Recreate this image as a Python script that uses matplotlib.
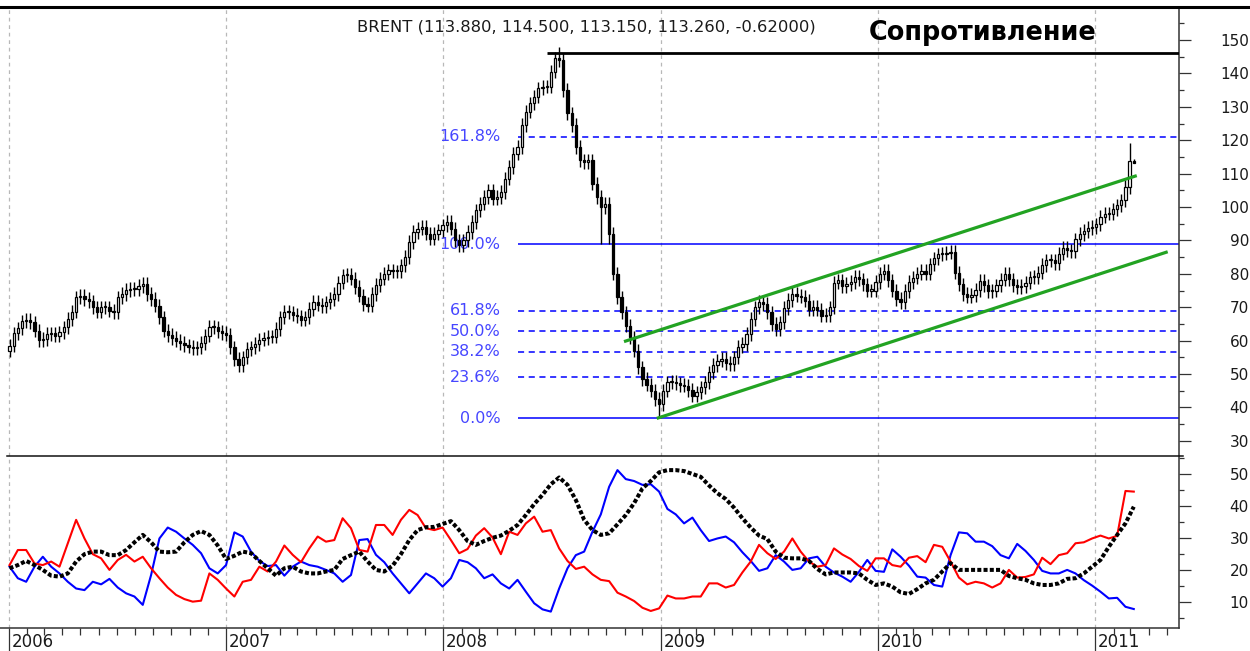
import matplotlib
matplotlib.use('Agg')
import matplotlib.pyplot as plt
import matplotlib.dates as mdates
import matplotlib.ticker as mticker
import matplotlib.transforms as mtransforms
from matplotlib.lines import Line2D
import numpy as np
import pandas as pd

plt.rcParams['font.family'] = ['DejaVu Sans']

# ---------------- data ----------------
bar_dates = pd.date_range('2006-01-02', periods=271, freq='7D')

close = [
    # 2006
    58.5, 62.2, 63.7, 65.8, 66.2, 65.5, 63.0, 60.2, 60.5, 62.0,
    62.2, 61.5, 62.5, 64.0, 66.5, 68.7, 73.0, 73.5, 72.5, 71.8,
    70.0, 68.7, 70.0, 70.0, 69.0, 68.5, 73.0, 74.0, 75.2, 75.5,
    75.5, 76.3, 77.0, 74.0, 72.5, 70.5, 67.0, 63.0, 61.7, 60.8,
    60.0, 59.3, 58.6, 58.2, 57.7, 58.0, 59.3, 61.5, 64.2, 64.0,
    62.8, 62.3,
    # 2007
    61.8, 58.0, 54.5, 52.7, 55.0, 57.5, 58.0, 59.0, 60.3, 60.7,
    61.2, 61.2, 63.5, 67.0, 68.7, 68.5, 67.8, 67.3, 66.3, 67.0,
    69.5, 71.7, 70.8, 70.3, 71.5, 72.5, 74.0, 77.3, 79.5, 79.7,
    78.5, 76.0, 73.5, 71.0, 70.5, 74.0, 76.6, 78.5, 80.0, 81.0,
    80.7, 80.7, 82.5, 85.0, 89.5, 92.5, 93.5, 94.0, 92.0, 90.5,
    92.0, 93.0,
    # 2008
    94.5, 95.5, 93.5, 90.0, 88.5, 90.0, 92.5, 95.5, 99.0, 101.0,
    103.0, 105.0, 102.5, 103.0, 104.5, 108.5, 112.0, 116.0, 118.0, 124.5,
    128.5, 131.0, 133.0, 135.5, 136.0, 136.0, 140.5, 144.5, 144.0, 135.0,
    128.0, 124.5, 118.0, 114.0, 113.5, 114.0, 107.0, 103.0, 100.0, 101.0,
    92.0, 80.0, 73.0, 68.5, 64.5, 61.0, 57.0, 52.0, 48.5, 46.8,
    45.0, 42.5, 41.0,
    # 2009
    45.0, 47.5, 47.7, 47.2, 46.7, 46.5, 45.2, 43.5, 44.5, 46.0,
    47.5, 50.5, 52.7, 54.0, 54.6, 53.3, 53.0, 55.0, 58.2, 59.0,
    62.0, 66.5, 70.0, 71.6, 71.0, 68.5, 65.0, 63.5, 65.5, 69.8,
    72.2, 74.0, 73.5, 73.2, 72.0, 69.3, 70.2, 69.3, 67.5, 67.7,
    70.0, 77.3, 78.0, 76.3, 77.0, 77.5, 79.0, 78.3, 76.8, 75.0,
    75.0, 77.5,
    # 2010
    80.0, 80.8, 78.0, 75.0, 72.5, 71.5, 74.8, 77.5, 78.8, 80.0,
    80.8, 80.0, 82.8, 84.6, 85.8, 86.0, 86.3, 86.5, 80.3, 76.8,
    74.0, 73.2, 73.7, 75.2, 77.8, 76.5, 74.8, 75.0, 76.5, 78.2,
    80.0, 78.3, 76.5, 76.0, 76.3, 77.3, 78.9, 79.0, 80.3, 82.6,
    84.0, 84.0, 83.2, 86.0, 87.7, 87.0, 86.8, 90.3, 91.9, 92.8,
    93.7, 94.0,
    # 2011
    94.8, 97.1, 98.0, 98.0, 99.3, 100.5, 102.0, 106.0, 113.9, 113.26,
]
first_open = 57.0
wick = 2.0
low_override = {142: 89.0, 144: 88.8, 156: 36.7, 270: 113.15}
high_override = {131: 146.5, 132: 148.0, 269: 119.3, 270: 114.5}

# indicator (+DI red, -DI blue, ADX black), every second weekly bar
di_plus = [
    21.6, 26.3, 26.3, 22.1, 21.6, 22.7, 21.1, 28.4, 35.7, 29.9,
    25.0, 23.7, 20.1, 23.2, 24.8, 22.7, 24.2, 20.6, 17.5, 14.6,
    12.3, 11.0, 10.2, 10.5, 19.0, 17.0, 14.3, 11.8, 16.4, 17.0,
    21.1, 19.6, 22.7, 27.7, 24.8, 22.5, 26.8, 30.5, 28.9, 29.4,
    36.2, 33.1, 26.3, 25.8, 34.1, 34.1, 31.0, 35.7, 38.8, 37.2,
    33.1, 32.5, 33.3, 29.4, 25.3, 26.6, 30.8, 33.1, 30.2, 25.0,
    32.0, 31.0, 34.6, 36.7, 32.0, 32.5, 26.8, 22.9, 20.4, 21.1,
    18.7, 17.0, 16.6, 13.0, 11.8, 10.4, 8.3, 7.3, 8.1, 12.1,
    11.2, 11.2, 11.8, 11.8, 15.9, 15.9, 14.6, 15.4, 19.3, 22.7,
    27.9, 25.3, 23.5, 25.8, 29.9, 25.8, 22.7, 21.1, 21.6, 26.8,
    24.9, 23.5, 21.3, 19.8, 23.7, 23.7, 21.6, 21.1, 23.9, 24.4,
    22.5, 27.9, 27.3, 22.7, 17.7, 15.6, 16.4, 15.9, 14.6, 15.9,
    20.1, 17.7, 17.9, 18.7, 23.9, 21.9, 24.7, 25.3, 28.4, 28.7,
    29.9, 30.8, 29.9, 30.7, 44.7, 44.5,
]
di_minus = [
    21.1, 17.5, 16.4, 21.1, 24.2, 21.1, 19.0, 16.4, 14.3, 13.8,
    16.4, 15.6, 17.3, 14.6, 12.8, 11.8, 9.2, 18.5, 29.9, 33.3,
    32.0, 29.9, 27.9, 25.3, 20.6, 19.0, 21.6, 31.8, 30.5, 25.8,
    22.9, 21.3, 21.6, 18.3, 21.1, 22.7, 21.6, 21.1, 20.1, 19.0,
    16.4, 18.5, 29.4, 29.7, 24.8, 22.5, 19.0, 15.9, 12.8, 15.9,
    19.0, 17.5, 14.9, 17.5, 23.2, 22.5, 20.6, 17.5, 18.7, 15.9,
    14.3, 17.0, 13.3, 9.7, 7.8, 7.1, 14.3, 20.6, 24.7, 25.8,
    32.0, 37.4, 46.0, 51.2, 48.4, 47.8, 46.6, 46.8, 44.5, 39.1,
    37.4, 34.6, 36.4, 32.5, 29.1, 29.9, 30.5, 28.7, 25.6, 22.9,
    19.8, 20.6, 24.7, 22.7, 20.1, 20.6, 23.7, 24.2, 21.1, 19.3,
    18.0, 16.4, 19.5, 23.2, 19.8, 19.5, 26.5, 24.2, 21.4, 18.0,
    17.7, 15.4, 14.9, 24.7, 31.8, 31.5, 28.9, 28.9, 27.5, 24.7,
    23.7, 28.2, 26.0, 23.2, 19.8, 19.0, 19.0, 20.1, 19.0, 16.9,
    15.2, 13.3, 11.2, 11.4, 8.6, 7.9,
]
adx = [
    20.6, 21.6, 22.9, 21.6, 20.1, 18.3, 18.0, 19.0, 22.7, 25.0,
    25.8, 25.8, 24.7, 24.7, 26.3, 28.7, 31.0, 28.7, 25.8, 25.6,
    25.8, 28.7, 31.0, 32.2, 31.0, 27.7, 23.5, 24.5, 25.8, 25.3,
    22.9, 20.6, 18.3, 20.6, 21.1, 19.6, 19.0, 19.0, 19.6, 20.1,
    23.5, 24.7, 25.8, 22.7, 20.1, 19.6, 21.4, 25.0, 29.4, 32.5,
    33.4, 33.5, 34.4, 35.3, 32.5, 29.1, 27.9, 29.1, 30.1, 30.8,
    32.3, 34.1, 37.2, 40.6, 43.5, 46.8, 48.9, 46.6, 41.9, 35.7,
    32.5, 31.0, 31.5, 34.3, 37.2, 40.9, 45.5, 47.8, 50.5, 51.2,
    51.2, 50.9, 50.0, 49.1, 46.4, 44.0, 42.2, 39.5, 36.2, 33.3,
    30.8, 29.7, 25.8, 23.9, 23.7, 23.7, 22.9, 20.4, 18.7, 19.3,
    19.3, 19.3, 19.0, 17.0, 15.4, 15.9, 14.9, 13.1, 12.6, 14.1,
    15.9, 17.0, 19.6, 22.2, 20.1, 20.1, 20.1, 20.1, 20.1, 20.1,
    18.2, 17.5, 17.0, 15.9, 15.4, 15.4, 15.9, 17.3, 17.5, 19.0,
    21.1, 23.2, 27.3, 31.0, 34.6, 39.8,
]
ind_dates = bar_dates[::2]

fib_levels = [0.0, 23.6, 38.2, 50.0, 61.8, 100.0, 161.8]
fib_prices = [36.7, 49.0, 56.6, 62.75, 68.9, 88.8, 121.0]
fib_start = '2008-05-05'
resistance_price = 146.2
resistance_start = '2008-06-23'
channel_lower_dates = ['2008-12-25', '2011-05-03']
channel_lower_vals = [36.7, 86.6]
channel_upper_dates = ['2008-10-31', '2011-03-12']
channel_upper_vals = [59.7, 109.4]

title_text = 'BRENT (113.880, 114.500, 113.150, 113.260, -0.62000)'
label_text = 'Сопротивление'

# ---------------- figure ----------------
W, H = 1250, 651
fig = plt.figure(figsize=(W / 100, H / 100), dpi=100)
fig.patch.set_facecolor('white')

ax = fig.add_axes([0, 1 - 456 / H, 1179 / W, (456 - 7) / H])
ax2 = fig.add_axes([0, 1 - 628 / H, 1179 / W, (628 - 456) / H], sharex=ax)

xnum = mdates.date2num(bar_dates)
x0 = mdates.date2num(pd.Timestamp('2005-12-17'))
x1 = mdates.date2num(pd.Timestamp('2011-05-22'))

# candles
c = np.array(close)
o = np.r_[first_open, c[:-1]]
hi = np.maximum(o, c) + wick
lo = np.minimum(o, c) - wick
for k, v in low_override.items():
    lo[k] = v
for k, v in high_override.items():
    hi[k] = v
up = c >= o
body_bot = np.minimum(o, c)
body_h = np.maximum(np.abs(c - o), 0.3)
ax.vlines(xnum, lo, hi, color='black', lw=1.0, zorder=3)
ax.bar(xnum[up], body_h[up], bottom=body_bot[up], width=3.8,
       facecolor='white', edgecolor='black', linewidth=0.9, zorder=4)
ax.bar(xnum[~up], body_h[~up], bottom=body_bot[~up], width=3.8,
       facecolor='black', edgecolor='black', linewidth=0.9, zorder=4)

# fibonacci levels
fs = mdates.date2num(pd.Timestamp(fib_start))
for lvl, pr in zip(fib_levels, fib_prices):
    solid = lvl in (0.0, 100.0)
    ax.hlines(pr, fs, x1, colors='#0000ff', lw=1.1,
              linestyles='solid' if solid else (0, (4, 3)), zorder=2)
    ax.annotate(f'{lvl:.1f}%', xy=(fs, pr), xytext=(-17, 0),
                textcoords='offset pixels', ha='right', va='center',
                fontsize=11.5, color='#4646ff', zorder=1)

# resistance
rs = mdates.date2num(pd.Timestamp(resistance_start))
ax.hlines(resistance_price, rs, x1, colors='black', lw=2.0, zorder=5)

# channel
ax.plot(mdates.date2num(pd.to_datetime(channel_lower_dates)), channel_lower_vals,
        color='#22a322', lw=2.3, zorder=6, solid_capstyle='butt')
ax.plot(mdates.date2num(pd.to_datetime(channel_upper_dates)), channel_upper_vals,
        color='#22a322', lw=2.3, zorder=6, solid_capstyle='butt')

# indicator
inum = mdates.date2num(ind_dates)
ax2.plot(inum, di_minus, color='#0000ff', lw=1.5, zorder=3)
ax2.plot(inum, di_plus, color='#ff0000', lw=1.5, zorder=4)
ax2.plot(inum, adx, color='black', lw=2.9, linestyle=(0, (1.0, 0.55)),
         dash_capstyle='butt', zorder=5)

# ---------------- axes formatting ----------------
ax.set_xlim(x0, x1)
ax.set_ylim(25.45, 159.88)
ax2.set_ylim(1.99, 55.6)

for a in (ax, ax2):
    a.set_facecolor('white')
    a.spines['left'].set_visible(False)
    a.spines['top'].set_visible(False)
    a.spines['right'].set_color('#333333')
    a.spines['right'].set_linewidth(1.1)
    a.yaxis.tick_right()
    a.yaxis.set_major_locator(mticker.MultipleLocator(10))
    a.yaxis.set_minor_locator(mticker.MultipleLocator(5))
    a.tick_params(axis='y', which='major', direction='out', length=8.6, width=0.9,
                  color='#333333', labelsize=11, labelcolor='#1a1a1a', pad=41.8)
    a.tick_params(axis='y', which='minor', direction='out', length=3.6, width=0.9,
                  color='#333333')
    a.grid(axis='x', which='major', color='#b8b8b8', linestyle=(0, (3, 3)), lw=0.9)
    a.set_axisbelow(True)

ax.spines['bottom'].set_visible(False)
ax2.spines['bottom'].set_color('#333333')
ax2.spines['bottom'].set_linewidth(1.1)

ax2.xaxis.set_major_locator(mdates.YearLocator())
ax2.xaxis.set_minor_locator(mdates.MonthLocator())
ax2.xaxis.set_major_formatter(mdates.DateFormatter('%Y'))
ax.tick_params(axis='x', which='both', length=0, labelbottom=False)
ax2.tick_params(axis='x', which='major', direction='out', length=16.6, width=0.9,
                color='#333333', labelsize=12, labelcolor='#1a1a1a', pad=-13)
ax2.tick_params(axis='x', which='minor', direction='out', length=5, width=0.9,
                color='#333333')

fig.canvas.draw()
for a in (ax, ax2):
    for lbl in a.yaxis.get_majorticklabels():
        lbl.set_horizontalalignment('right')
offset = mtransforms.ScaledTranslation(3 / 100, 0, fig.dpi_scale_trans)
for lbl in ax2.xaxis.get_majorticklabels():
    lbl.set_horizontalalignment('left')
    lbl.set_verticalalignment('top')
    lbl.set_transform(lbl.get_transform() + offset)

# frame lines
fig.add_artist(Line2D([0, 1], [1 - 6.5 / H] * 2, transform=fig.transFigure,
                      color='black', lw=2.2))
fig.add_artist(Line2D([7 / W, 1183 / W], [1 - 456 / H] * 2, transform=fig.transFigure,
                      color='#111111', lw=1.1))

# texts
fig.text(357 / W, 1 - 31 / H, title_text, fontsize=11.8, ha='left', va='baseline',
         color='#1a1a1a')
fig.text(869 / W, 1 - 39.5 / H, label_text, fontsize=18.4, fontweight='bold',
         ha='left', va='baseline', color='black')

fig.savefig('out.png', dpi=100, facecolor='white')
